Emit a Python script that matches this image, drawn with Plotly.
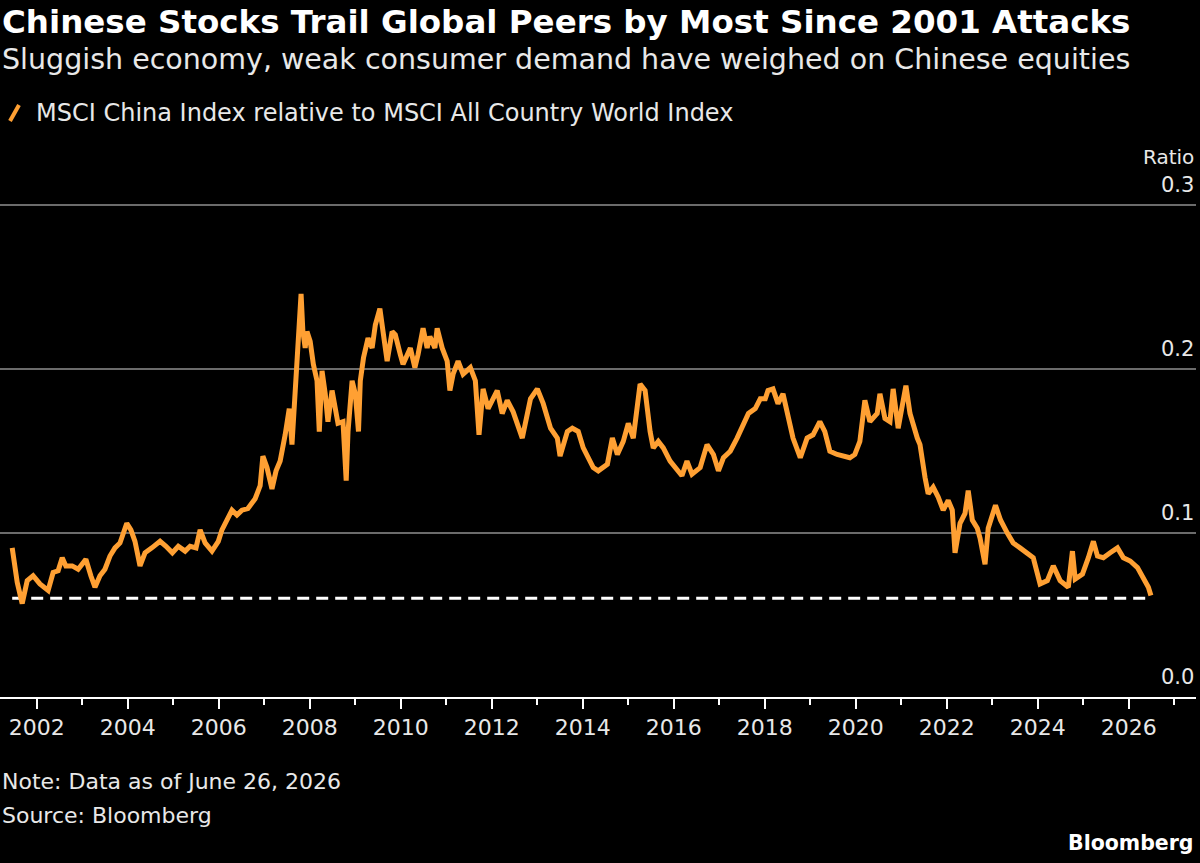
import plotly.graph_objects as go
import pandas as pd

# ---- data (decimal year, ratio) ----
years = [
    2001.46, 2001.57, 2001.68, 2001.79, 2001.92, 2002.07, 2002.25, 2002.36, 2002.47, 2002.56,
    2002.64, 2002.78, 2002.91, 2003.08, 2003.19, 2003.28, 2003.39, 2003.50, 2003.61, 2003.72,
    2003.83, 2003.92, 2003.98, 2004.07, 2004.16, 2004.27, 2004.38, 2004.53, 2004.71, 2004.84,
    2004.98, 2005.11, 2005.26, 2005.37, 2005.50, 2005.59, 2005.70, 2005.85, 2005.99, 2006.07,
    2006.21, 2006.29, 2006.40, 2006.51, 2006.64, 2006.80, 2006.91, 2006.97, 2007.06, 2007.17,
    2007.26, 2007.35, 2007.46, 2007.55, 2007.61, 2007.68, 2007.74, 2007.81, 2007.85, 2007.90,
    2007.94, 2008.01, 2008.08, 2008.16, 2008.21, 2008.27, 2008.34, 2008.40, 2008.49, 2008.56,
    2008.62, 2008.73, 2008.80, 2008.84, 2008.93, 2009.00, 2009.07, 2009.11, 2009.18, 2009.28,
    2009.37, 2009.44, 2009.54, 2009.61, 2009.70, 2009.81, 2009.88, 2009.99, 2010.05, 2010.21,
    2010.31, 2010.38, 2010.49, 2010.58, 2010.64, 2010.75, 2010.80, 2010.91, 2011.02, 2011.08,
    2011.15, 2011.26, 2011.37, 2011.53, 2011.64, 2011.72, 2011.81, 2011.92, 2012.12, 2012.23,
    2012.34, 2012.47, 2012.67, 2012.85, 2013.00, 2013.13, 2013.29, 2013.44, 2013.50, 2013.66,
    2013.77, 2013.90, 2014.01, 2014.23, 2014.34, 2014.54, 2014.65, 2014.76, 2014.89, 2015.00,
    2015.11, 2015.26, 2015.37, 2015.48, 2015.55, 2015.66, 2015.77, 2015.92, 2016.08, 2016.18,
    2016.29, 2016.40, 2016.58, 2016.73, 2016.87, 2016.98, 2017.09, 2017.24, 2017.39, 2017.53,
    2017.64, 2017.79, 2017.90, 2018.01, 2018.07, 2018.18, 2018.29, 2018.40, 2018.51, 2018.62,
    2018.78, 2018.93, 2019.06, 2019.21, 2019.32, 2019.43, 2019.59, 2019.72, 2019.87, 2019.98,
    2020.09, 2020.20, 2020.31, 2020.47, 2020.53, 2020.64, 2020.75, 2020.82, 2020.93, 2021.10,
    2021.19, 2021.35, 2021.41, 2021.52, 2021.59, 2021.70, 2021.81, 2021.92, 2022.03, 2022.12,
    2022.18, 2022.29, 2022.40, 2022.47, 2022.56, 2022.67, 2022.73, 2022.84, 2022.91, 2023.07,
    2023.18, 2023.33, 2023.46, 2023.61, 2023.77, 2023.90, 2024.05, 2024.21, 2024.34, 2024.49,
    2024.67, 2024.76, 2024.82, 2024.98, 2025.11, 2025.22, 2025.31, 2025.44, 2025.59, 2025.75,
    2025.88, 2026.03, 2026.19, 2026.32, 2026.43, 2026.485,
]
ratio = [
    0.091, 0.070, 0.057, 0.071, 0.074, 0.069, 0.065, 0.076, 0.077, 0.085,
    0.080, 0.080, 0.078, 0.084, 0.074, 0.067, 0.074, 0.078, 0.086, 0.091,
    0.094, 0.102, 0.106, 0.102, 0.095, 0.080, 0.088, 0.091, 0.095, 0.092,
    0.088, 0.092, 0.089, 0.092, 0.091, 0.102, 0.094, 0.089, 0.095, 0.102,
    0.109, 0.114, 0.111, 0.114, 0.115, 0.121, 0.129, 0.147, 0.140, 0.127,
    0.138, 0.144, 0.160, 0.176, 0.154, 0.188, 0.223, 0.246, 0.223, 0.213,
    0.223, 0.217, 0.203, 0.193, 0.162, 0.199, 0.185, 0.168, 0.187, 0.176,
    0.167, 0.168, 0.132, 0.162, 0.193, 0.185, 0.162, 0.193, 0.207, 0.219,
    0.213, 0.227, 0.237, 0.223, 0.205, 0.223, 0.221, 0.209, 0.203, 0.213,
    0.201, 0.209, 0.225, 0.213, 0.220, 0.213, 0.225, 0.213, 0.205, 0.187,
    0.197, 0.205, 0.197, 0.201, 0.193, 0.160, 0.188, 0.176, 0.187, 0.173,
    0.181, 0.174, 0.158, 0.182, 0.188, 0.179, 0.164, 0.158, 0.147, 0.162,
    0.164, 0.162, 0.152, 0.140, 0.138, 0.142, 0.158, 0.148, 0.156, 0.167,
    0.158, 0.191, 0.187, 0.162, 0.152, 0.156, 0.152, 0.144, 0.138, 0.135,
    0.144, 0.136, 0.140, 0.154, 0.148, 0.138, 0.146, 0.150, 0.158, 0.167,
    0.173, 0.176, 0.182, 0.182, 0.187, 0.188, 0.179, 0.185, 0.170, 0.158,
    0.146, 0.158, 0.160, 0.168, 0.162, 0.150, 0.148, 0.147, 0.146, 0.148,
    0.156, 0.181, 0.168, 0.173, 0.185, 0.170, 0.168, 0.188, 0.164, 0.190,
    0.173, 0.158, 0.154, 0.134, 0.124, 0.128, 0.122, 0.114, 0.120, 0.114,
    0.088, 0.106, 0.112, 0.126, 0.108, 0.103, 0.097, 0.081, 0.103, 0.117,
    0.108, 0.100, 0.094, 0.091, 0.088, 0.085, 0.069, 0.071, 0.080, 0.071,
    0.067, 0.089, 0.072, 0.075, 0.085, 0.095, 0.086, 0.085, 0.088, 0.091,
    0.085, 0.083, 0.079, 0.073, 0.067, 0.062,
]
low_level = 0.0602
y_ticks = [0.0, 0.1, 0.2, 0.3]
y_tick_labels = ["0.0", "0.1", "0.2", "0.3"]

series_name = "MSCI China Index relative to MSCI All Country World Index"
title = "Chinese Stocks Trail Global Peers by Most Since 2001 Attacks"
subtitle = "Sluggish economy, weak consumer demand have weighed on Chinese equities"
note = "Note: Data as of June 26, 2026"
source = "Source: Bloomberg"


def to_date(y):
    yr = int(y)
    start = pd.Timestamp(yr, 1, 1)
    end = pd.Timestamp(yr + 1, 1, 1)
    return start + (end - start) * (y - yr)


dates = [to_date(y) for y in years]

W, H = 1200, 863
M_L, M_R, M_T, M_B = 0, 4, 189, 166
PLOT_H = H - M_T - M_B
PLOT_W = W - M_L - M_R
FONT = "DejaVu Sans"
ORANGE = "#FFA033"
TXT = "#E8E8E8"


def py(pix):
    """pixel row (from top) -> paper y"""
    return (H - M_B - pix) / PLOT_H


def px(pix):
    return (pix - M_L) / PLOT_W


fig = go.Figure()
fig.add_trace(go.Scatter(
    x=[dates[0], dates[-1]], y=[low_level, low_level], mode="lines",
    line=dict(color="white", width=3, dash="12px,7px"), hoverinfo="skip", showlegend=False,
))
fig.add_trace(go.Scatter(
    x=dates, y=ratio, mode="lines", name=series_name,
    line=dict(color=ORANGE, width=5), showlegend=False,
))

annotations = [
    dict(text="<b>" + title + "</b>", x=0, y=py(22), font=dict(size=32.5, color="white", family=FONT)),
    dict(text=subtitle, x=0, y=py(59), font=dict(size=28.5, color=TXT, family=FONT)),
    dict(text=series_name, x=px(34), y=py(113), font=dict(size=24, color=TXT, family=FONT)),
    dict(text=note, x=0, y=py(781), font=dict(size=22, color=TXT, family=FONT)),
    dict(text=source, x=0, y=py(815), font=dict(size=22, color=TXT, family=FONT)),
]
for a in annotations:
    a.update(xref="paper", yref="paper", xanchor="left", yanchor="middle", showarrow=False)
fig.update_layout(annotations=annotations)
fig.add_annotation(text="<b>Bloomberg</b>", xref="paper", yref="paper", x=px(1196), y=py(843),
                   xanchor="right", yanchor="middle", showarrow=False,
                   font=dict(size=20.5, color="white", family=FONT))
fig.add_annotation(text="Ratio", xref="paper", yref="paper", x=px(1196), y=py(157),
                   xanchor="right", yanchor="middle", showarrow=False,
                   font=dict(size=20, color=TXT, family=FONT))
# y tick labels placed above their gridlines
for val, lab in zip(y_ticks, y_tick_labels):
    fig.add_annotation(text=lab, xref="paper", yref="y", x=px(1196), y=val, yshift=20,
                       xanchor="right", yanchor="middle", showarrow=False,
                       font=dict(size=21, color=TXT, family=FONT))

# legend glyph (orange slash)
fig.add_shape(type="line", xref="paper", yref="paper", x0=px(10), y0=py(121), x1=px(19), y1=py(105),
              line=dict(color=ORANGE, width=4))

fig.update_layout(
    width=W, height=H,
    margin=dict(l=M_L, r=M_R, t=M_T, b=M_B),
    paper_bgcolor="black", plot_bgcolor="black",
    font=dict(family=FONT, color=TXT, size=20),
    showlegend=False,
    xaxis=dict(
        type="date", range=["2001-03-12", "2027-06-24"],
        tick0="2002-01-01", dtick="M24", tickformat="%Y",
        ticks="outside", ticklen=10, tickwidth=1.5, tickcolor="white",
        showline=True, linecolor="white", linewidth=2,
        showgrid=False, zeroline=False,
        tickfont=dict(size=22, color=TXT, family=FONT),
        minor=dict(tick0="2001-01-01", dtick="M12", ticks="outside", ticklen=6,
                   tickwidth=1.5, tickcolor="white", showgrid=False),
    ),
    yaxis=dict(
        range=[0, 0.31], tickvals=y_ticks, showticklabels=False, ticks="",
        showgrid=True, gridcolor="#6b6b6b", gridwidth=1.5,
        zeroline=False, showline=False,
    ),
)

fig.write_html("out.html")
